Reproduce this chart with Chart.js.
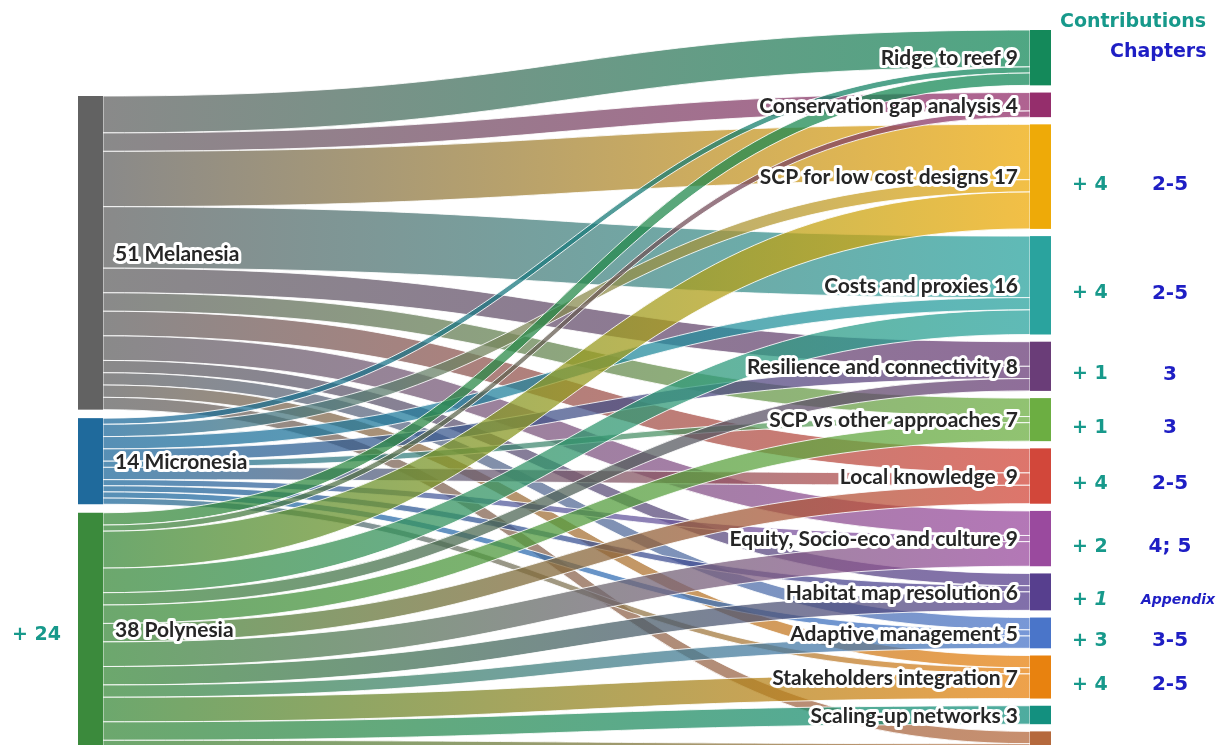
<!DOCTYPE html>
<html lang="en">
<head>
  <meta charset="UTF-8">
  <title>Pacific SCP contributions - Sankey</title>
  <script src="https://cdn.jsdelivr.net/npm/chart.js"></script>
  <style>
    html, body { margin: 0; padding: 0; background: #ffffff; overflow: hidden; }
    .wrap { width: 1223px; height: 745px; overflow: hidden; }
    canvas { display: block; }
  </style>
</head>
<body>
  <div class="wrap">
    <canvas id="sankey" width="1223" height="770"></canvas>
  </div>

  <script>
    // Regions (left column)
    const sources = ['Melanesia', 'Micronesia', 'Polynesia'];
    const sourceNotes = ['', '', '+ 24'];

    // Themes (right column); last node is cut off in the original
    const targets = [
      'Ridge to reef', 'Conservation gap analysis', 'SCP for low cost designs',
      'Costs and proxies', 'Resilience and connectivity', 'SCP vs other approaches',
      'Local knowledge ', 'Equity, Socio-eco and culture', 'Habitat map resolution',
      'Adaptive management', 'Stakeholders integration', 'Scaling-up networks', ''
    ];

    // Number of contributions per region -> theme (same order as targets)
    const melanesia  = [6, 3, 9, 10, 4, 3, 4, 4, 2, 2, 2, 0, 2];
    const micronesia = [1, 0, 2, 2, 2, 1, 2, 1, 1, 1, 1, 0, 0];
    const polynesia  = [2, 1, 6, 4, 2, 3, 3, 4, 3, 2, 4, 3, 1];

    // Side notes on the right
    const contributions = ['', '', '+ 4', '+ 4', '+ 1', '+ 1', '+ 4', '+ 2', '+ 1', '+ 3', '+ 4', '', ''];
    const chapters = ['', '', '2-5', '2-5', '3', '3', '2-5', '4; 5', 'Appendix', '3-5', '2-5', '', ''];

    const flows = [melanesia, micronesia, polynesia];

    // colours
    const sourceColors = ['#626262', '#1f6a9c', '#3b8a3c'];
    const targetColors = ['#14895a', '#952e6c', '#eeaa08', '#2aa39e', '#6a3d78', '#6cae42',
      '#d2473a', '#9a4a9e', '#573f8e', '#4a75c9', '#e8820f', '#13907f', '#b5693d'];
    const TEAL = '#17998b', BLUE = '#1e1ec4';
    const NOTE_FONT = '"DejaVu Sans"';

    const UNIT = 6.15;          // px per contribution
    const TOP = 30;             // px above the right column
    const LEFT_OFFSET = 66;     // left column starts lower
    const GAP_R = 7.2, GAP_L = 8.5;
    const LEFT_X = 78, LEFT_W = 25, RIGHT_X = 1030, RIGHT_W = 21;

    const sum = a => a.reduce((p, c) => p + c, 0);

    function layoutColumn(values, start, gap) {
      let y = start;
      return values.map(v => {
        const node = { y0: y, y1: y + v };
        y += v + gap;
        return node;
      });
    }

    function haloText(ctx, text, x, y) {
      ctx.lineJoin = 'round';
      ctx.lineWidth = 6;
      ctx.strokeStyle = '#ffffff';
      ctx.strokeText(text, x, y);
      ctx.fillStyle = '#262626';
      ctx.fillText(text, x, y);
    }

    const sankeyPlugin = {
      id: 'sankey',
      afterDatasetsDraw(chart) {
        const ctx = chart.ctx;
        const xs = chart.scales.x, ys = chart.scales.y;
        const px = v => xs.getPixelForValue(v);
        const py = v => ys.getPixelForValue(v);

        const srcTotals = flows.map(sum);
        const tgtTotals = targets.map((_, t) => sum(flows.map(f => f[t])));

        const srcNodes = layoutColumn(srcTotals, LEFT_OFFSET / UNIT, GAP_L / UNIT);
        const tgtNodes = layoutColumn(tgtTotals, 0, GAP_R / UNIT);

        // link offsets, source side ordered by target
        const srcOff = srcNodes.map(n => n.y0);
        const tgtOff = tgtNodes.map(n => n.y0);
        const links = [];
        flows.forEach((row, s) => {
          row.forEach((v, t) => {
            if (!v) return;
            links.push({ s, t, v, sy: srcOff[s] });
            srcOff[s] += v;
          });
        });
        // target side: ordered by source
        targets.forEach((_, t) => {
          links.filter(l => l.t === t).sort((a, b) => a.s - b.s).forEach(l => {
            l.ty = tgtOff[t];
            tgtOff[t] += l.v;
          });
        });

        const x0 = px(LEFT_X + LEFT_W), x1 = px(RIGHT_X);
        const xm = (x0 + x1) / 2;

        ctx.save();
        links.forEach(l => {
          const a0 = py(l.sy), a1 = py(l.sy + l.v);
          const b0 = py(l.ty), b1 = py(l.ty + l.v);
          ctx.beginPath();
          ctx.moveTo(x0, a0);
          ctx.bezierCurveTo(xm, a0, xm, b0, x1, b0);
          ctx.lineTo(x1, b1);
          ctx.bezierCurveTo(xm, b1, xm, a1, x0, a1);
          ctx.closePath();
          const g = ctx.createLinearGradient(x0, 0, x1, 0);
          g.addColorStop(0, sourceColors[l.s]);
          g.addColorStop(1, targetColors[l.t]);
          ctx.globalAlpha = 0.75;
          ctx.fillStyle = g;
          ctx.fill();
          ctx.globalAlpha = 0.85;
          ctx.lineWidth = 1;
          ctx.strokeStyle = '#ffffff';
          ctx.stroke();
        });
        ctx.globalAlpha = 1;

        // nodes
        srcNodes.forEach((n, i) => {
          ctx.fillStyle = sourceColors[i];
          ctx.fillRect(px(LEFT_X), py(n.y0), px(LEFT_X + LEFT_W) - px(LEFT_X), py(n.y1) - py(n.y0));
        });
        tgtNodes.forEach((n, i) => {
          ctx.fillStyle = targetColors[i];
          ctx.fillRect(px(RIGHT_X), py(n.y0), px(RIGHT_X + RIGHT_W) - px(RIGHT_X), py(n.y1) - py(n.y0));
        });

        // node labels
        ctx.font = 'bold 21px Lato';
        ctx.textBaseline = 'middle';
        ctx.textAlign = 'left';
        srcNodes.forEach((n, i) => {
          haloText(ctx, srcTotals[i] + ' ' + sources[i], px(LEFT_X + LEFT_W) + 12, py((n.y0 + n.y1) / 2) + 1);
        });
        ctx.textAlign = 'right';
        tgtNodes.forEach((n, i) => {
          if (!targets[i]) return;
          haloText(ctx, targets[i] + ' ' + tgtTotals[i], px(RIGHT_X) - 12, py((n.y0 + n.y1) / 2) + 1);
        });

        // side notes
        ctx.font = 'bold 19px ' + NOTE_FONT;
        ctx.fillStyle = TEAL;
        ctx.textAlign = 'left';
        srcNodes.forEach((n, i) => {
          if (sourceNotes[i]) ctx.fillText(sourceNotes[i], 12, py((n.y0 + n.y1) / 2) + 5);
        });
        tgtNodes.forEach((n, i) => {
          const cy = py((n.y0 + n.y1) / 2) + 8;
          const appendix = chapters[i] === 'Appendix';
          if (contributions[i]) {
            ctx.font = (appendix ? 'italic ' : '') + 'bold 19px ' + NOTE_FONT;
            ctx.fillStyle = TEAL;
            ctx.textAlign = 'left';
            ctx.fillText(contributions[i], 1072, cy);
          }
          if (chapters[i]) {
            ctx.font = appendix ? 'italic bold 14px ' + NOTE_FONT : 'bold 20px ' + NOTE_FONT;
            ctx.fillStyle = BLUE;
            ctx.textAlign = 'center';
            ctx.fillText(chapters[i], appendix ? 1178 : 1170, cy);
          }
        });

        // header
        ctx.font = 'bold 19px ' + NOTE_FONT;
        ctx.textAlign = 'left';
        ctx.fillStyle = TEAL;
        ctx.fillText('Contributions', 1060, 22);
        ctx.fillStyle = BLUE;
        ctx.fillText('Chapters', 1110, 52);
        ctx.restore();
      }
    };

    const H = 770;
    new Chart(document.getElementById('sankey'), {
      type: 'scatter',
      data: { datasets: [{ data: [] }] },
      options: {
        responsive: false,
        animation: false,
        layout: { padding: 0 },
        plugins: { legend: { display: false }, tooltip: { enabled: false } },
        scales: {
          x: { type: 'linear', display: false, min: 0, max: 1223 },
          y: { type: 'linear', display: false, reverse: true, min: -TOP / UNIT, max: (H - TOP) / UNIT }
        }
      },
      plugins: [sankeyPlugin]
    });
  </script>
</body>
</html>
